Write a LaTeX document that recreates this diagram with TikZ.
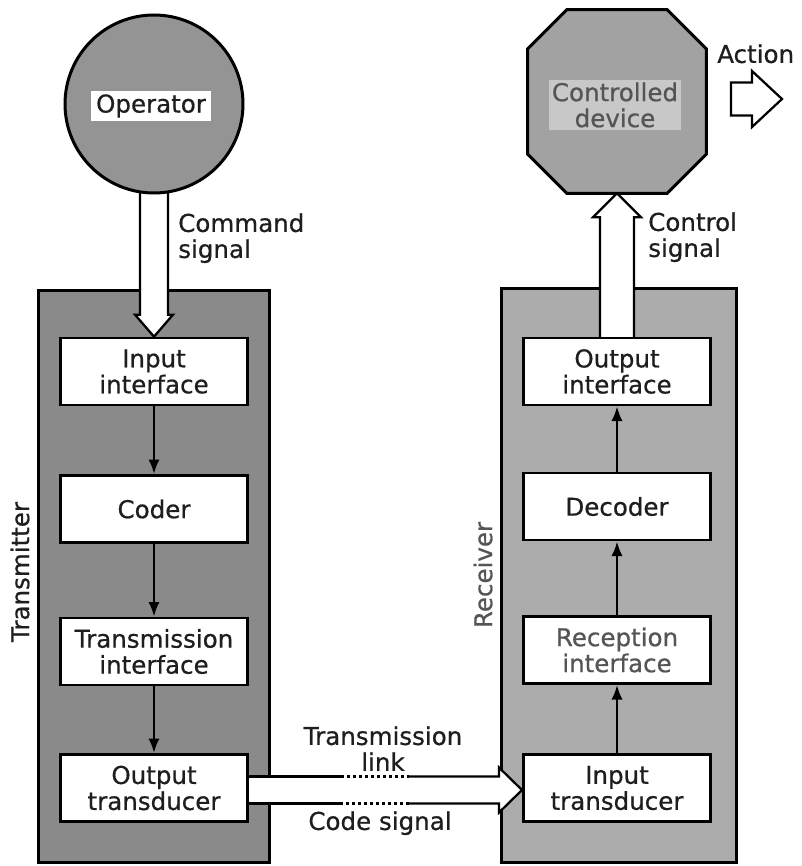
\documentclass[tikz,border=0pt]{standalone}
\usepackage{fontspec}
\setmainfont{DejaVu Sans}[FakeBold=0.6]
\usetikzlibrary{calc,arrows.meta}
\definecolor{txgray}{RGB}{138, 138, 138}
\definecolor{rxgray}{RGB}{172, 172, 172}
\definecolor{opgray}{RGB}{148, 148, 148}
\definecolor{devgray}{RGB}{162, 162, 162}
\definecolor{labgray}{RGB}{200, 200, 200}
\definecolor{inkgray}{RGB}{30, 30, 30}
\definecolor{fadegray}{RGB}{85, 85, 85}
\newcommand{\boxfont}{\fontsize{18.4pt}{19.5pt}\selectfont}
\pgfdeclarelayer{back}
\pgfdeclarelayer{mid}
\pgfsetlayers{back,mid,main}
\tikzset{every picture/.style={line width=0.75pt}}
\tikzset{
  panel/.style={draw, line width=2.25pt, inner sep=0pt},
  unitbox/.style={draw, fill=white, line width=2pt, minimum width=140.5pt, minimum height=50.25pt, align=center, font=\boxfont, text=inkgray},
  hollow/.style={draw, fill=white, line width=1.7pt, line join=miter},
  flow/.style={line width=2pt, -{Latex[length=11pt,width=8.5pt]}},
  caption/.style={font=\boxfont, text=inkgray, inner sep=0pt, align=left}
}

\begin{document}
\begin{tikzpicture}[x=0.75pt,y=0.75pt,yscale=-1,xscale=1]
\useasboundingbox (0,0) rectangle (801,866);

%Shape: Rectangle [transmitter]
\begin{pgfonlayer}{back}
\node[panel, fill=txgray, minimum width=173.25pt, minimum height=429pt] (tx) at (153.5,576) {};
%Shape: Rectangle [receiver]
\node[panel, fill=rxgray, minimum width=176.25pt, minimum height=430.5pt] (rx) at (618.5,575) {};
\end{pgfonlayer}

%Shape: Circle [operator]
\node[circle, draw, fill=opgray, line width=2.25pt, minimum size=133.5pt, inner sep=0pt] (op) at (154,104) {};
%Shape: Octagon [controlled device]
\node[minimum width=133.5pt, minimum height=137.25pt, inner sep=0pt] (dev) at (617,101.5) {};
\draw[fill=devgray, line width=2.25pt, line join=miter] ($(dev.north west)+(39,0)$) -- ($(dev.north east)+(-39,0)$) -- ($(dev.north east)+(0,39)$) -- ($(dev.south east)+(0,-39)$) -- ($(dev.south east)+(-39,0)$) -- ($(dev.south west)+(39,0)$) -- ($(dev.south west)+(0,-39)$) -- ($(dev.north west)+(0,39)$) -- cycle;

%Shape: Rectangle [transmitter blocks]
\node[unitbox] (inif) at (154,371.5) {Input\\interface};
\node[unitbox] (coder) at (154,509) {Coder};
\node[unitbox] (txif) at (154,651.5) {Transmission\\interface};
\node[unitbox] (outtr) at (154,788) {Output\\transducer};
%Shape: Rectangle [receiver blocks]
\node[unitbox] (outif) at (617,371.5) {Output\\interface};
\node[unitbox] (decoder) at (617,506.5) {Decoder};
\node[unitbox, text=fadegray] (rxif) at (617,650) {Reception\\interface};
\node[unitbox] (intr) at (617,788) {Input\\transducer};

%Straight Lines [block arrows]
\draw[flow] (inif) -- (coder);
\draw[flow] (coder) -- (txif);
\draw[flow] (txif) -- (outtr);
\draw[flow] (intr) -- (rxif);
\draw[flow] (rxif) -- (decoder);
\draw[flow] (decoder) -- (outif);

%Hollow Arrows
\begin{pgfonlayer}{mid}
%command signal
\draw[hollow] ($(op.south)+(-14,-6)$) -- ($(inif.north)+(-14,-22)$) -- ($(inif.north)+(-19,-22)$) -- (inif.north) -- ($(inif.north)+(19,-22)$) -- ($(inif.north)+(14,-22)$) -- ($(op.south)+(14,-6)$) -- cycle;
%control signal
\draw[hollow] ($(outif.north)+(-17,4)$) -- ($(dev.south)+(-17,24)$) -- ($(dev.south)+(-24,24)$) -- (dev.south) -- ($(dev.south)+(24,24)$) -- ($(dev.south)+(17,24)$) -- ($(outif.north)+(17,4)$) -- cycle;
%transmission link
\coordinate (lkA) at ($(outtr.east)+(-4,2)$);
\coordinate (lkB) at ($(intr.west)+(0,2)$);
\fill[white] ($(lkA)+(0,-13.5)$) -- ($(lkB)+(-23,-13.5)$) -- ($(lkB)+(-23,-22.5)$) -- (lkB) -- ($(lkB)+(-23,22.5)$) -- ($(lkB)+(-23,13.5)$) -- ($(lkA)+(0,13.5)$) -- cycle;
\draw[line width=1.7pt] ($(lkA)+(0,-13.5)$) -- ($(lkA)+(96,-13.5)$);
\draw[line width=1.7pt, dash pattern=on 2pt off 2.5pt] ($(lkA)+(96,-13.5)$) -- ($(lkA)+(164,-13.5)$);
\draw[line width=1.7pt, line join=miter] ($(lkA)+(164,-13.5)$) -- ($(lkB)+(-23,-13.5)$) -- ($(lkB)+(-23,-22.5)$) -- (lkB) -- ($(lkB)+(-23,22.5)$) -- ($(lkB)+(-23,13.5)$) -- ($(lkA)+(164,13.5)$);
\draw[line width=1.7pt, dash pattern=on 2pt off 2.5pt] ($(lkA)+(164,13.5)$) -- ($(lkA)+(96,13.5)$);
\draw[line width=1.7pt] ($(lkA)+(96,13.5)$) -- ($(lkA)+(0,13.5)$);
\end{pgfonlayer}

%action
\coordinate (actS) at (731,99);
\coordinate (actE) at (782,99);
\draw[hollow] ($(actS)+(0,-16.5)$) -- ($(actE)+(-30,-16.5)$) -- ($(actE)+(-30,-28)$) -- (actE) -- ($(actE)+(-30,28)$) -- ($(actE)+(-30,16.5)$) -- ($(actS)+(0,16.5)$) -- cycle;

% Text Node
\node[fill=white, font=\boxfont, text=inkgray, inner xsep=3.75pt, inner ysep=2.5pt] (oplbl) at (151,106) {Operator};
% Text Node
\node[fill=labgray, font=\boxfont, text=fadegray, align=center, inner sep=2pt] (devlbl) at (615,105) {Controlled\\device};
% Text Node
\node[caption, anchor=north west] (cmdlbl) at (178,213) {Command\\signal};
% Text Node
\node[caption, anchor=north west] (ctllbl) at (648,212) {Control\\signal};
% Text Node
\node[caption, anchor=north west] (actlbl) at (717,44) {Action};
% Text Node
\node[caption, anchor=north, align=center] (lnklbl) at (383,726) {Transmission\\link};
% Text Node
\node[caption, anchor=north] (codelbl) at (380,811) {Code signal};
% Text Node
\node[caption, rotate=90] (txlbl) at (20,572) {Transmitter};
% Text Node
\node[caption, rotate=90, text=fadegray] (rxlbl) at (483,575) {Receiver};

\end{tikzpicture}
\end{document}
